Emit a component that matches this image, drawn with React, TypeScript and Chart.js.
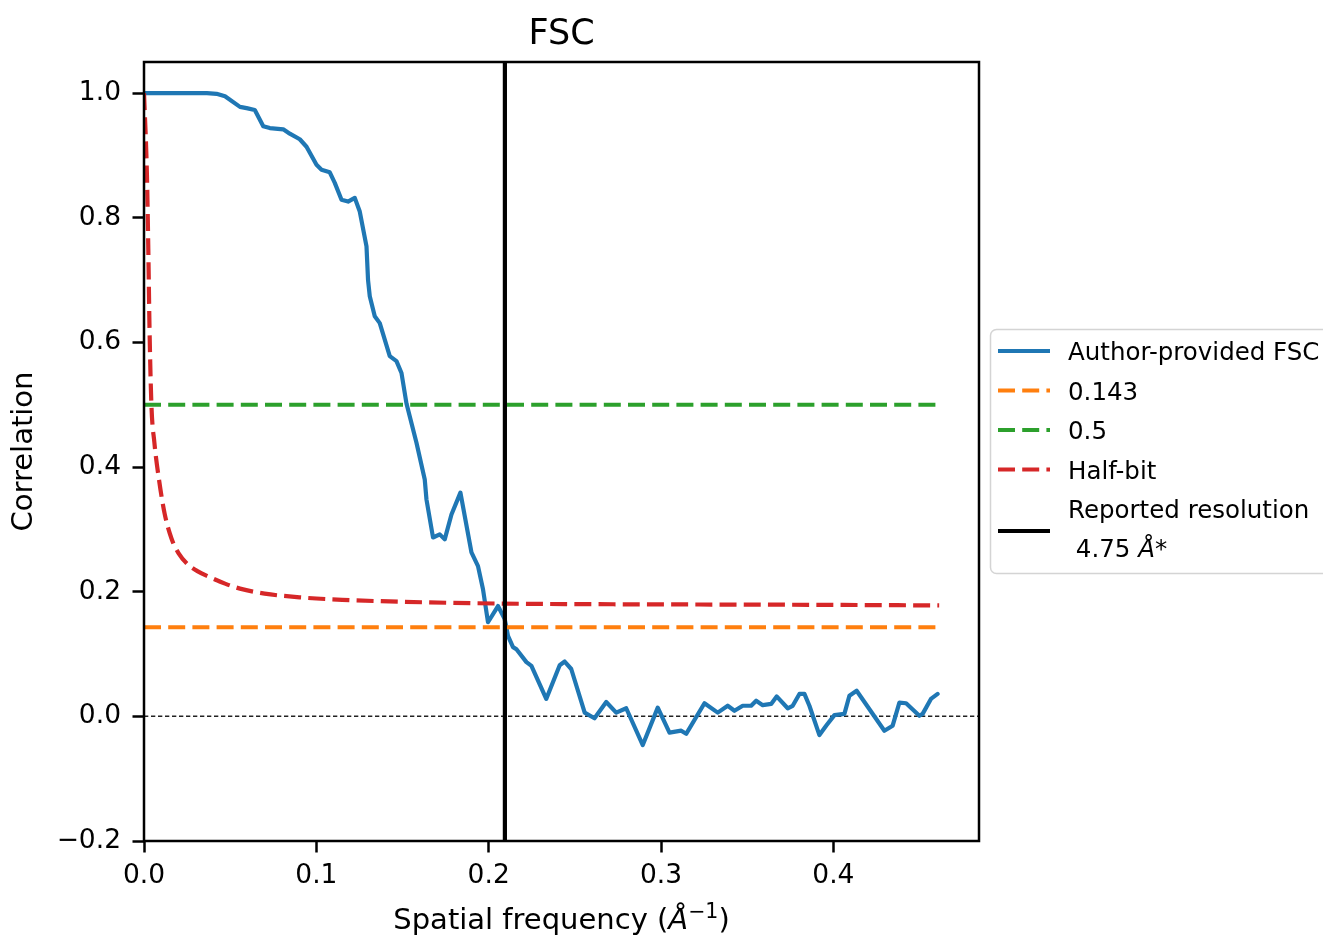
import React, { useEffect, useRef } from 'react';
import { Chart, registerables } from 'chart.js';

Chart.register(...registerables);

const FONT = "'DejaVu Sans', sans-serif";

// ---- axis settings / ticks ----
const X_MIN = 0;
const X_MAX = 0.4845;
const Y_MIN = -0.2;
const Y_MAX = 1.05;
const X_TICKS = [0, 0.1, 0.2, 0.3, 0.4];
const Y_TICKS = [-0.2, 0, 0.2, 0.4, 0.6, 0.8, 1.0];

// ---- FSC curve ----
const fscX = [0, 0.0365, 0.0421, 0.047, 0.0557, 0.0595, 0.0643, 0.0692, 0.073, 0.0808, 0.0846, 0.0904, 0.0943, 0.1001, 0.103, 0.1078, 0.1107, 0.1146, 0.1184, 0.1223, 0.1252, 0.1291, 0.13, 0.131, 0.1339, 0.1368, 0.1426, 0.1465, 0.1494, 0.1523, 0.1581, 0.1629, 0.1639, 0.1677, 0.1716, 0.1745, 0.1784, 0.1836, 0.19, 0.1938, 0.1967, 0.1996, 0.2054, 0.2093, 0.2112, 0.2141, 0.216, 0.2219, 0.2248, 0.2334, 0.2412, 0.2441, 0.2479, 0.2557, 0.2614, 0.2682, 0.274, 0.2798, 0.2894, 0.2981, 0.3049, 0.3117, 0.3146, 0.3252, 0.3329, 0.3387, 0.3426, 0.3474, 0.3523, 0.3552, 0.359, 0.3639, 0.3671, 0.3735, 0.3764, 0.3803, 0.3832, 0.3861, 0.3919, 0.3958, 0.4006, 0.4064, 0.4093, 0.4135, 0.4296, 0.4344, 0.4383, 0.4422, 0.4499, 0.4518, 0.4566, 0.4605];
const fscY = [1.0, 1.0, 0.999, 0.995, 0.978, 0.976, 0.973, 0.947, 0.944, 0.942, 0.935, 0.926, 0.914, 0.885, 0.877, 0.873, 0.856, 0.829, 0.826, 0.832, 0.81, 0.754, 0.7, 0.674, 0.642, 0.631, 0.578, 0.57, 0.551, 0.502, 0.439, 0.38, 0.348, 0.287, 0.292, 0.284, 0.324, 0.359, 0.263, 0.241, 0.204, 0.151, 0.177, 0.156, 0.129, 0.111, 0.108, 0.087, 0.081, 0.028, 0.082, 0.088, 0.076, 0.006, -0.003, 0.023, 0.006, 0.013, -0.046, 0.014, -0.026, -0.023, -0.028, 0.021, 0.006, 0.017, 0.009, 0.017, 0.017, 0.025, 0.018, 0.02, 0.032, 0.013, 0.017, 0.036, 0.036, 0.017, -0.03, -0.015, 0.002, 0.004, 0.033, 0.041, -0.023, -0.015, 0.022, 0.021, 0.001, 0.004, 0.028, 0.036];

// ---- half-bit curve ----
const halfBitX = [0, 0.0017, 0.0025, 0.0032, 0.0043, 0.006, 0.0087, 0.012, 0.016, 0.02, 0.025, 0.031, 0.0377, 0.047, 0.0557, 0.07, 0.0904, 0.115, 0.148, 0.206, 0.26, 0.322, 0.39, 0.4614];
const halfBitY = [1.0, 0.869, 0.75, 0.623, 0.5, 0.44, 0.38, 0.325, 0.285, 0.262, 0.245, 0.233, 0.224, 0.213, 0.205, 0.197, 0.191, 0.187, 0.184, 0.181, 0.18, 0.1795, 0.179, 0.178];

// ---- threshold lines ----
const thresholdX = [0, 0.4614];
const threshold0143 = [0.143, 0.143];
const threshold05 = [0.5, 0.5];
const resolutionX = 0.2094;
const zeroLineX = [X_MIN, X_MAX];
const zeroLineY = [0, 0];

// ---- text ----
const TITLE = 'FSC';
const Y_TITLE = 'Correlation';
const legendLabels = ['Author-provided FSC', '0.143', '0.5', 'Half-bit', 'Reported resolution', ' 4.75 ', 'Å', '*'];

const BLUE = '#1f77b4';
const ORANGE = '#ff7f0e';
const GREEN = '#2ca02c';
const RED = '#d62728';
const DASH = [17, 7.2];
const LW = 4.2;
const TICK_SIZE = 26.5;
const LABEL_SIZE = 29;
const LEGEND_SIZE = 24.5;
const TITLE_SIZE = 35;

const pts = (xs: number[], ys: number[]) => xs.map((x, i) => ({ x, y: ys[i] }));
const fmt = (v: number) => {
  const n = Math.abs(v) < 1e-9 ? 0 : v;
  return n.toFixed(1).replace('-', '\u2212');
};

type Seg = { t: string; italic?: boolean; size?: number; rise?: number };

function drawRich(ctx: CanvasRenderingContext2D, segs: Seg[], x: number, y: number, base: number, align: 'left' | 'center') {
  const fontFor = (s: Seg) => `${s.italic ? 'oblique ' : ''}${s.size ?? base}px ${FONT}`;
  let total = 0;
  for (const s of segs) {
    ctx.font = fontFor(s);
    total += ctx.measureText(s.t).width;
  }
  let cx = align === 'center' ? x - total / 2 : x;
  ctx.textAlign = 'left';
  ctx.textBaseline = 'alphabetic';
  for (const s of segs) {
    ctx.font = fontFor(s);
    ctx.fillText(s.t, cx, y - (s.rise ?? 0));
    cx += ctx.measureText(s.t).width;
  }
}

const decorPlugin = {
  id: 'decor',
  afterDatasetsDraw(chart: any) {
    const { ctx, chartArea } = chart;
    const { left, right, top, bottom } = chartArea;
    ctx.save();
    ctx.strokeStyle = '#000';
    ctx.lineWidth = 2.5;
    ctx.setLineDash([]);
    ctx.strokeRect(left, top, right - left, bottom - top);
    ctx.restore();
  },
  afterDraw(chart: any) {
    const { ctx, chartArea } = chart;
    const cx = (chartArea.left + chartArea.right) / 2;
    ctx.save();
    ctx.fillStyle = '#000';
    // title
    ctx.font = `${TITLE_SIZE}px ${FONT}`;
    ctx.textAlign = 'center';
    ctx.textBaseline = 'alphabetic';
    ctx.fillText(TITLE, cx, 44);
    // x axis title
    drawRich(ctx, [
      { t: 'Spatial frequency (' },
      { t: 'Å', italic: true },
      { t: '\u22121', size: 20.5, rise: 11 },
      { t: ')' },
    ], cx, 929, LABEL_SIZE, 'center');

    // legend box
    const bx = 990.5, by = 329.5, bw = 345, bh = 244, r = 6;
    ctx.beginPath();
    ctx.moveTo(bx + r, by);
    ctx.lineTo(bx + bw - r, by);
    ctx.arcTo(bx + bw, by, bx + bw, by + r, r);
    ctx.lineTo(bx + bw, by + bh - r);
    ctx.arcTo(bx + bw, by + bh, bx + bw - r, by + bh, r);
    ctx.lineTo(bx + r, by + bh);
    ctx.arcTo(bx, by + bh, bx, by + bh - r, r);
    ctx.lineTo(bx, by + r);
    ctx.arcTo(bx, by, bx + r, by, r);
    ctx.closePath();
    ctx.fillStyle = 'rgba(255,255,255,0.8)';
    ctx.fill();
    ctx.strokeStyle = 'rgba(204,204,204,0.85)';
    ctx.lineWidth = 1.5;
    ctx.stroke();

    const handles = [
      { color: BLUE, dash: [] as number[], y: 351 },
      { color: ORANGE, dash: DASH, y: 390.5 },
      { color: GREEN, dash: DASH, y: 430 },
      { color: RED, dash: DASH, y: 469.5 },
      { color: '#000', dash: [] as number[], y: 531 },
    ];
    for (const h of handles) {
      ctx.beginPath();
      ctx.setLineDash(h.dash);
      ctx.strokeStyle = h.color;
      ctx.lineWidth = LW;
      ctx.lineCap = 'butt';
      ctx.moveTo(998, h.y);
      ctx.lineTo(1050, h.y);
      ctx.stroke();
    }
    ctx.setLineDash([]);
    ctx.fillStyle = '#000';
    const tx = 1068;
    drawRich(ctx, [{ t: legendLabels[0] }], tx, 360, LEGEND_SIZE, 'left');
    drawRich(ctx, [{ t: legendLabels[1] }], tx, 399.5, LEGEND_SIZE, 'left');
    drawRich(ctx, [{ t: legendLabels[2] }], tx, 439, LEGEND_SIZE, 'left');
    drawRich(ctx, [{ t: legendLabels[3] }], tx, 478.5, LEGEND_SIZE, 'left');
    drawRich(ctx, [{ t: legendLabels[4] }], tx, 517.5, LEGEND_SIZE, 'left');
    drawRich(ctx, [{ t: legendLabels[5] }, { t: legendLabels[6], italic: true }, { t: legendLabels[7] }], tx, 557, LEGEND_SIZE, 'left');
    ctx.restore();
  },
};

export default function App() {
  const ref = useRef<HTMLCanvasElement | null>(null);
  useEffect(() => {
    document.body.style.margin = '0';
    const canvas = ref.current;
    if (!canvas) return;
    const tickFont = { family: FONT, size: TICK_SIZE };
    const common = { pointRadius: 0, pointHoverRadius: 0, fill: false, tension: 0, borderCapStyle: 'butt' as const };
    const chart = new Chart(canvas, {
      type: 'line',
      data: {
        datasets: [
          { ...common, label: 'Reported resolution', data: [{ x: resolutionX, y: Y_MIN }, { x: resolutionX, y: Y_MAX }], borderColor: '#000', borderWidth: LW, order: 0 },
          { ...common, label: 'Half-bit', data: pts(halfBitX, halfBitY), borderColor: RED, borderWidth: LW, borderDash: DASH, cubicInterpolationMode: 'monotone', order: 1 },
          { ...common, label: '0.5', data: pts(thresholdX, threshold05), borderColor: GREEN, borderWidth: LW, borderDash: DASH, order: 2 },
          { ...common, label: '0.143', data: pts(thresholdX, threshold0143), borderColor: ORANGE, borderWidth: LW, borderDash: DASH, order: 3 },
          { ...common, label: 'Author-provided FSC', data: pts(fscX, fscY), borderColor: BLUE, borderWidth: LW, borderCapStyle: 'round', borderJoinStyle: 'round', order: 4 },
          { ...common, label: 'zero', data: pts(zeroLineX, zeroLineY), borderColor: '#222', borderWidth: 1.5, borderDash: [4.3, 2.7], order: 5 },
        ] as any,
      },
      options: {
        responsive: false,
        animation: false,
        events: [],
        layout: { padding: { left: 0, right: 344, top: 62, bottom: 0 } },
        plugins: { legend: { display: false }, title: { display: false }, tooltip: { enabled: false } },
        scales: {
          x: {
            type: 'linear',
            min: X_MIN,
            max: X_MAX,
            afterBuildTicks: (s: any) => { s.ticks = X_TICKS.map((v) => ({ value: v })); },
            afterFit: (s: any) => { s.height = 95; },
            grid: { display: true, drawOnChartArea: false, drawTicks: true, tickLength: 11.5, tickWidth: 2.5, tickColor: '#000' },
            border: { display: false },
            ticks: { font: tickFont, color: '#000', padding: 8, maxRotation: 0, autoSkip: false, callback: (v: any) => fmt(Number(v)) },
          },
          y: {
            type: 'linear',
            min: Y_MIN,
            max: Y_MAX,
            afterBuildTicks: (s: any) => { s.ticks = Y_TICKS.map((v) => ({ value: v })); },
            afterFit: (s: any) => { s.width = 144; },
            grid: { display: true, drawOnChartArea: false, drawTicks: true, tickLength: 11.5, tickWidth: 2.5, tickColor: '#000' },
            border: { display: false },
            ticks: { font: tickFont, color: '#000', padding: 11.5, autoSkip: false, callback: (v: any) => fmt(Number(v)) },
            title: { display: true, text: Y_TITLE, font: { family: FONT, size: LABEL_SIZE }, color: '#000', padding: { top: 7.5, bottom: 0 } },
          },
        },
      },
      plugins: [decorPlugin],
    } as any);
    return () => chart.destroy();
  }, []);
  return (
    <div style={{ width: 1323, height: 936, background: '#fff' }}>
      <canvas ref={ref} width={1323} height={936} style={{ display: 'block' }} />
    </div>
  );
}
